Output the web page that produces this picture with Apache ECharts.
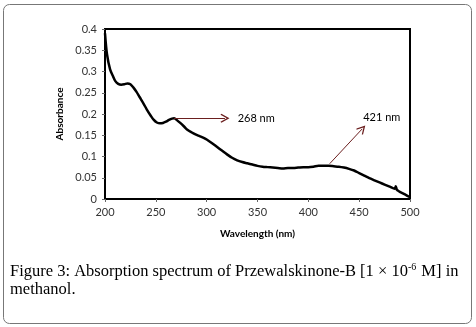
<!DOCTYPE html>
<html><head><meta charset="utf-8">
<script src="https://cdn.jsdelivr.net/npm/echarts@6/dist/echarts.min.js"></script>
<style>html,body{margin:0;padding:0;background:#fff}#c{width:476px;height:327px}</style>
</head><body><div id="c"></div>
<script>
const wavelengths = [200,202,205,208,210,213,216,219,222,225,228,231,234,238,241,245,248,251,254,257,260,263,266,268,271,274,278,281,285,289,293,297,300,305,310,315,320,325,330,335,340,345,350,355,360,365,370,375,380,385,390,395,400,405,410,415,420,425,430,435,440,445,450,455,460,465,470,475,480,485,486,487,488,490,495,500];
const absorbance = [0.39,0.34,0.305,0.288,0.278,0.271,0.269,0.27,0.272,0.27,0.262,0.252,0.24,0.224,0.211,0.196,0.186,0.18,0.178,0.179,0.182,0.186,0.189,0.19,0.185,0.179,0.17,0.163,0.157,0.152,0.148,0.144,0.14,0.132,0.123,0.114,0.105,0.097,0.091,0.087,0.084,0.081,0.078,0.076,0.075,0.074,0.073,0.072,0.073,0.073,0.074,0.075,0.075,0.076,0.078,0.078,0.078,0.077,0.076,0.074,0.071,0.067,0.061,0.055,0.049,0.044,0.039,0.034,0.029,0.024,0.03,0.022,0.02,0.017,0.011,0.004];
const xTicks = {min:200, max:500, step:50};
const yTicks = {min:0, max:0.4, step:0.05};
const peaks = [{label:'268 nm', from:[268,0.19], to:[318,0.19], text:[330,0.19]},
               {label:'421 nm', from:[421,0.083], to:[453,0.165], text:[453.5,0.191]}];
const captionLine1 = ['Figure 3: Absorption spectrum of Przewalskinone-B [1 × 10', '-6', ' M] in'];
const captionLine2 = 'methanol.';

const chart = echarts.init(document.getElementById('c'), null, {renderer:'canvas'});
const labelFont = 'Lato, "Open Sans", sans-serif';
const serif = '"Liberation Serif", serif';
const arrowPath = 'path://M5,0 L10,9 L9,10 L5,3 L1,10 L0,9 Z';
chart.setOption({
  animation:false,
  grid:{left:105, top:29, width:305, height:170, show:true, borderColor:'#000', borderWidth:2, containLabel:false},
  xAxis:{type:'value', min:xTicks.min, max:xTicks.max, interval:xTicks.step,
    name:'Wavelength (nm)', nameLocation:'middle', nameGap:30,
    nameTextStyle:{fontFamily:labelFont, fontWeight:'bold', fontSize:10, color:'#000'},
    axisLine:{show:true, lineStyle:{color:'#000', width:2}},
    axisTick:{show:true, length:3, lineStyle:{color:'#666'}},
    axisLabel:{fontFamily:labelFont, fontSize:11, color:'#333', margin:8},
    splitLine:{show:false}},
  yAxis:{type:'value', min:yTicks.min, max:yTicks.max, interval:yTicks.step,
    name:'Absorbance', nameLocation:'middle', nameGap:34, nameRotate:90,
    nameTextStyle:{fontFamily:labelFont, fontWeight:'bold', fontSize:10, color:'#000'},
    axisLine:{show:true, lineStyle:{color:'#000', width:2}},
    axisTick:{show:true, length:3, lineStyle:{color:'#666'}},
    axisLabel:{fontFamily:labelFont, fontSize:11, color:'#333', margin:8},
    splitLine:{show:false}},
  series:[{type:'line', data:wavelengths.map((w,i)=>[w,absorbance[i]]), showSymbol:false, smooth:0.3,
    lineStyle:{color:'#000', width:2.5},
    markLine:{silent:true, symbol:['none', arrowPath], symbolSize:[9,9], label:{show:false},
      lineStyle:{color:'#6b1f1f', width:1, type:'solid'},
      data: peaks.map(p=>[{coord:p.from},{coord:p.to}])},
    markPoint:{silent:true, symbol:'circle', symbolSize:1, itemStyle:{color:'transparent'},
      label:{show:true, position:'right', distance:0, fontFamily:labelFont, fontSize:11, color:'#000', formatter:d=>d.name},
      data: peaks.map(p=>({name:p.label, coord:p.text}))}
  }],
  graphic:[
    {type:'rect', shape:{x:3.5,y:4.5,width:468,height:319,r:6}, style:{fill:'none', stroke:'#777', lineWidth:1}, z:-1},
    {type:'text', left:10, top:262, style:{
      rich:{n:{fontFamily:serif, fontSize:16.5, fill:'#000'},
            s:{fontFamily:serif, fontSize:10, fill:'#000', verticalAlign:'top', padding:[0,1,9,0]}},
      text:'{n|'+captionLine1[0]+'}{s|'+captionLine1[1]+'}{n|'+captionLine1[2]+'}', fill:'#000'}},
    {type:'text', left:10, top:281, style:{text:captionLine2, font:'16.5px '+serif, fill:'#000'}}
  ]
});
</script></body></html>
